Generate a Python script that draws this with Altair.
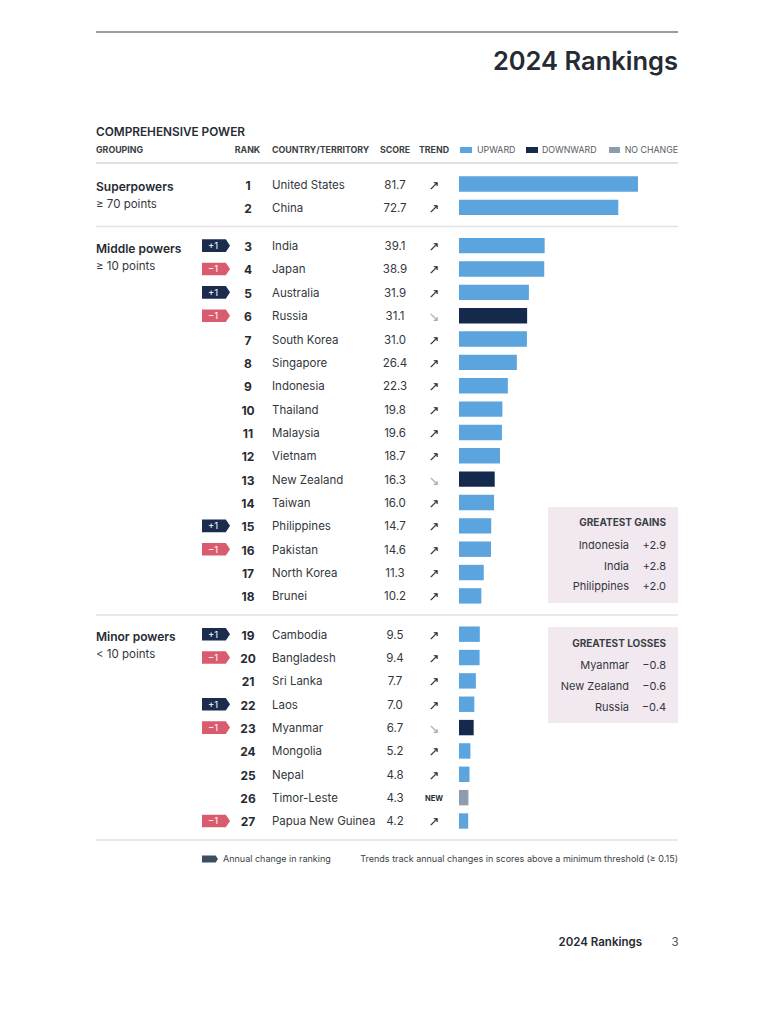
import altair as alt
import pandas as pd

# ---------------- data ----------------
countries = ["United States", "China", "India", "Japan", "Australia", "Russia",
             "South Korea", "Singapore", "Indonesia", "Thailand", "Malaysia",
             "Vietnam", "New Zealand", "Taiwan", "Philippines", "Pakistan",
             "North Korea", "Brunei", "Cambodia", "Bangladesh", "Sri Lanka",
             "Laos", "Myanmar", "Mongolia", "Nepal", "Timor-Leste",
             "Papua New Guinea"]
ranks = list(range(1, 28))
scores = [81.7, 72.7, 39.1, 38.9, 31.9, 31.1, 31.0, 26.4, 22.3, 19.8, 19.6,
          18.7, 16.3, 16.0, 14.7, 14.6, 11.3, 10.2, 9.5, 9.4, 7.7, 7.0, 6.7,
          5.2, 4.8, 4.3, 4.2]
trends = ["up", "up", "up", "up", "up", "down", "up", "up", "up", "up", "up",
          "up", "down", "up", "up", "up", "up", "up", "up", "up", "up", "up",
          "down", "up", "up", "new", "up"]
rank_changes = [0, 0, 1, -1, 1, -1, 0, 0, 0, 0, 0, 0, 0, 0, 1, -1, 0, 0,
                1, -1, 0, 1, -1, 0, 0, 0, -1]
group_of_row = [0, 0] + [1] * 16 + [2] * 9
group_names = ["Superpowers", "Middle powers", "Minor powers"]
group_thresholds = ["≥ 70 points", "≥ 10 points", "< 10 points"]
gain_names = ["Indonesia", "India", "Philippines"]
gain_values = ["+2.9", "+2.8", "+2.0"]
loss_names = ["Myanmar", "New Zealand", "Russia"]
loss_values = ["−0.8", "−0.6", "−0.4"]

# ---------------- styling ----------------
FONT = "Inter"
DARK = "#262b33"
TEXT = "#33373d"
UP = "#5ba4dd"
DOWN = "#14294c"
NOCH = "#8e9cae"
PLUS = "#1b2c4e"
MINUS = "#d95b6e"
BOXBG = "#f2e8f0"
SEP = "#e2e2e2"
HEAD = "#3a3f46"

GAP = 0.64
df = pd.DataFrame({"country": countries, "rank": ranks, "score": scores,
                   "trend": trends, "change": rank_changes, "g": group_of_row})
df["slot"] = df["rank"] - 1 + GAP * df["g"]
df["y0"] = df["slot"] - 0.33
df["y1"] = df["slot"] + 0.33
df["zero"] = 0.0
df["sign"] = df["change"].map(lambda c: "plus" if c > 0 else ("minus" if c < 0 else "none"))
df["badge"] = df["change"].map(lambda c: f"+{c}" if c > 0 else (f"−{abs(c)}" if c < 0 else ""))
df["arrow"] = df["trend"].map({"up": "↗", "down": "↘", "new": ""})

gdf = pd.DataFrame({"name": group_names, "thr": group_thresholds,
                    "slot": [df[df.g == i]["slot"].min() for i in range(3)]})
sep_df = pd.DataFrame({"slot": [gdf.slot[1] - 0.82, gdf.slot[2] - 0.82]})

gains = pd.DataFrame({"i": [0, 1, 2], "name": gain_names, "val": gain_values})
losses = pd.DataFrame({"i": [0, 1, 2], "name": loss_names, "val": loss_values})

Y = alt.Scale(domain=[0, 30], range=[176, 876.5], zero=False, nice=False)
X = alt.Scale(domain=[0, 100], range=[451, 670.1], zero=False, nice=False)
ysl = alt.Y("slot:Q", scale=Y, axis=None)

base = alt.Chart(pd.DataFrame({"k": [0]}))


def label(text, x, y, size=11, weight="normal", color=TEXT, align="left", font=FONT):
    return base.mark_text(text=text, align=align, baseline="middle", fontSize=size,
                          fontWeight=weight, color=color, font=font).encode(
        x=alt.value(x - 8), y=alt.value(y - 8))


def box(x0, x1, y0, y1, color):
    return base.mark_rect(color=color).encode(
        x=alt.value(x0 - 8), x2=alt.value(x1 - 8), y=alt.value(y0 - 8), y2=alt.value(y1 - 8))


def hrule(x0, x1, y, color, width):
    return base.mark_rule(color=color, strokeWidth=width).encode(
        x=alt.value(x0 - 8), x2=alt.value(x1 - 8), y=alt.value(y - 8))


rows = alt.Chart(df)
DY = 1.5

bars = rows.mark_rect().encode(
    x=alt.X("zero:Q", scale=X, axis=None), x2="score:Q",
    y=alt.Y("y0:Q", scale=Y, axis=None), y2="y1:Q",
    color=alt.Color("trend:N", scale=alt.Scale(domain=["up", "down", "new"],
                                               range=[UP, DOWN, NOCH]), legend=None))

rank_t = rows.mark_text(align="center", baseline="middle", font=FONT, fontSize=12,
                        fontWeight="bold", color=DARK, dy=DY).encode(
    x=alt.value(240), y=ysl, text="rank:Q")
country_t = rows.mark_text(align="left", baseline="middle", font=FONT, fontSize=11.5,
                           color=TEXT, dy=DY).encode(x=alt.value(264), y=ysl, text="country:N")
score_t = rows.mark_text(align="center", baseline="middle", font=FONT, fontSize=11.5,
                         color=TEXT, dy=DY).encode(x=alt.value(387), y=ysl,
                                                   text=alt.Text("score:Q", format=".1f"))
arrow_t = rows.transform_filter("datum.trend != 'new'").mark_text(
    align="center", baseline="middle", font="DejaVu Sans", fontSize=13, dy=DY).encode(
    x=alt.value(426), y=ysl, text="arrow:N",
    color=alt.Color("trend:N", scale=alt.Scale(domain=["up", "down"], range=["#22262c", "#a3abb5"]),
                    legend=None))
new_t = rows.transform_filter("datum.trend == 'new'").mark_text(
    align="center", baseline="middle", font=FONT, fontSize=7.5, fontWeight="bold",
    color=DARK, dy=DY).encode(x=alt.value(426), y=ysl, text=alt.value("NEW"))

BADGE = "M-1,-0.45L0.7,-0.45L1,0L0.7,0.45L-1,0.45Z"
badges = rows.transform_filter("datum.change != 0").mark_point(
    shape=BADGE, filled=True, size=784, opacity=1, strokeWidth=0).encode(
    x=alt.value(208), y=ysl,
    color=alt.Color("sign:N", scale=alt.Scale(domain=["plus", "minus"], range=[PLUS, MINUS]),
                    legend=None))
badge_t = rows.transform_filter("datum.change != 0").mark_text(
    align="center", baseline="middle", font=FONT, fontSize=9.5, color="white", dy=0.5).encode(
    x=alt.value(205), y=ysl, text="badge:N")

groups = alt.Chart(gdf)
gname = groups.mark_text(align="left", baseline="middle", font=FONT, fontSize=12,
                         fontWeight=600, color=DARK, dy=3).encode(
    x=alt.value(88), y=ysl, text="name:N")
gthr = groups.mark_text(align="left", baseline="middle", font=FONT, fontSize=11.5,
                        color=TEXT, dy=21).encode(x=alt.value(88), y=ysl, text="thr:N")
seps = alt.Chart(sep_df).mark_rule(color=SEP, strokeWidth=1.5).encode(
    x=alt.value(88), x2=alt.value(670), y=ysl)

GY = alt.Scale(domain=[0, 2], range=[537, 578], zero=False, nice=False)
LY = alt.Scale(domain=[0, 2], range=[657, 699], zero=False, nice=False)
gain_n = alt.Chart(gains).mark_text(align="right", baseline="middle", font=FONT, fontSize=11,
                                    color=TEXT, dy=1).encode(
    x=alt.value(621), y=alt.Y("i:Q", scale=GY, axis=None), text="name:N")
gain_v = alt.Chart(gains).mark_text(align="right", baseline="middle", font=FONT, fontSize=11,
                                    color=TEXT, dy=1).encode(
    x=alt.value(658), y=alt.Y("i:Q", scale=GY, axis=None), text="val:N")
loss_n = alt.Chart(losses).mark_text(align="right", baseline="middle", font=FONT, fontSize=11,
                                     color=TEXT, dy=1).encode(
    x=alt.value(621), y=alt.Y("i:Q", scale=LY, axis=None), text="name:N")
loss_v = alt.Chart(losses).mark_text(align="right", baseline="middle", font=FONT, fontSize=11,
                                     color=TEXT, dy=1).encode(
    x=alt.value(658), y=alt.Y("i:Q", scale=LY, axis=None), text="val:N")

legend_badge = base.mark_point(shape=BADGE, filled=True, size=256, opacity=1,
                               strokeWidth=0, color="#3e4e62").encode(
    x=alt.value(210 - 8), y=alt.value(859 - 8))

annotations = [
    hrule(96, 678, 32, "#9c9c9c", 2),
    label("2024 Rankings", 678, 62, size=25.5, weight=600, color=DARK, align="right"),
    label("COMPREHENSIVE POWER", 96, 132, size=11.8, weight=600, color=DARK),
    label("GROUPING", 96, 150, size=8.8, weight="bold", color=HEAD),
    label("RANK", 247.5, 150, size=8.8, weight="bold", color=HEAD, align="center"),
    label("COUNTRY/TERRITORY", 272, 150, size=8.8, weight="bold", color=HEAD),
    label("SCORE", 395, 150, size=8.8, weight="bold", color=HEAD, align="center"),
    label("TREND", 434, 150, size=8.8, weight="bold", color=HEAD, align="center"),
    box(460, 472, 147, 153, UP),
    label("UPWARD", 477, 150, size=8.8, color="#555b63"),
    box(526, 538, 147, 153, DOWN),
    label("DOWNWARD", 542, 150, size=8.8, color="#555b63"),
    box(609, 620, 147, 153, NOCH),
    label("NO CHANGE", 678, 150, size=8.8, color="#555b63", align="right"),
    hrule(96, 678, 163, "#d6d6d6", 1.5),
    box(548, 678, 507, 603, BOXBG),
    box(548, 678, 627, 723, BOXBG),
    label("GREATEST GAINS", 666, 523, size=10, weight="bold", color=HEAD, align="right"),
    label("GREATEST LOSSES", 666, 644, size=10, weight="bold", color=HEAD, align="right"),
    hrule(96, 678, 840, SEP, 1.5),
    label("Annual change in ranking", 223, 859, size=9, color=HEAD),
    label("Trends track annual changes in scores above a minimum threshold (≥ 0.15)",
          678, 859, size=9, color=HEAD, align="right"),
    label("2024 Rankings", 642, 943, size=11.5, weight=600, color=DARK, align="right"),
    label("3", 675, 943, size=11.5, color="#4a4f57", align="center"),
]

chart = alt.layer(
    *annotations, seps, bars, badges, badge_t, rank_t, country_t, score_t,
    arrow_t, new_t, gname, gthr, gain_n, gain_v, loss_n, loss_v, legend_badge
).resolve_scale(y="independent", color="independent").properties(
    width=758, height=1008, padding=0,
    autosize=alt.AutoSizeParams(type="none"),
).configure_view(stroke=None)

chart.save("out.html", embed_options={"renderer": "svg", "actions": False})
